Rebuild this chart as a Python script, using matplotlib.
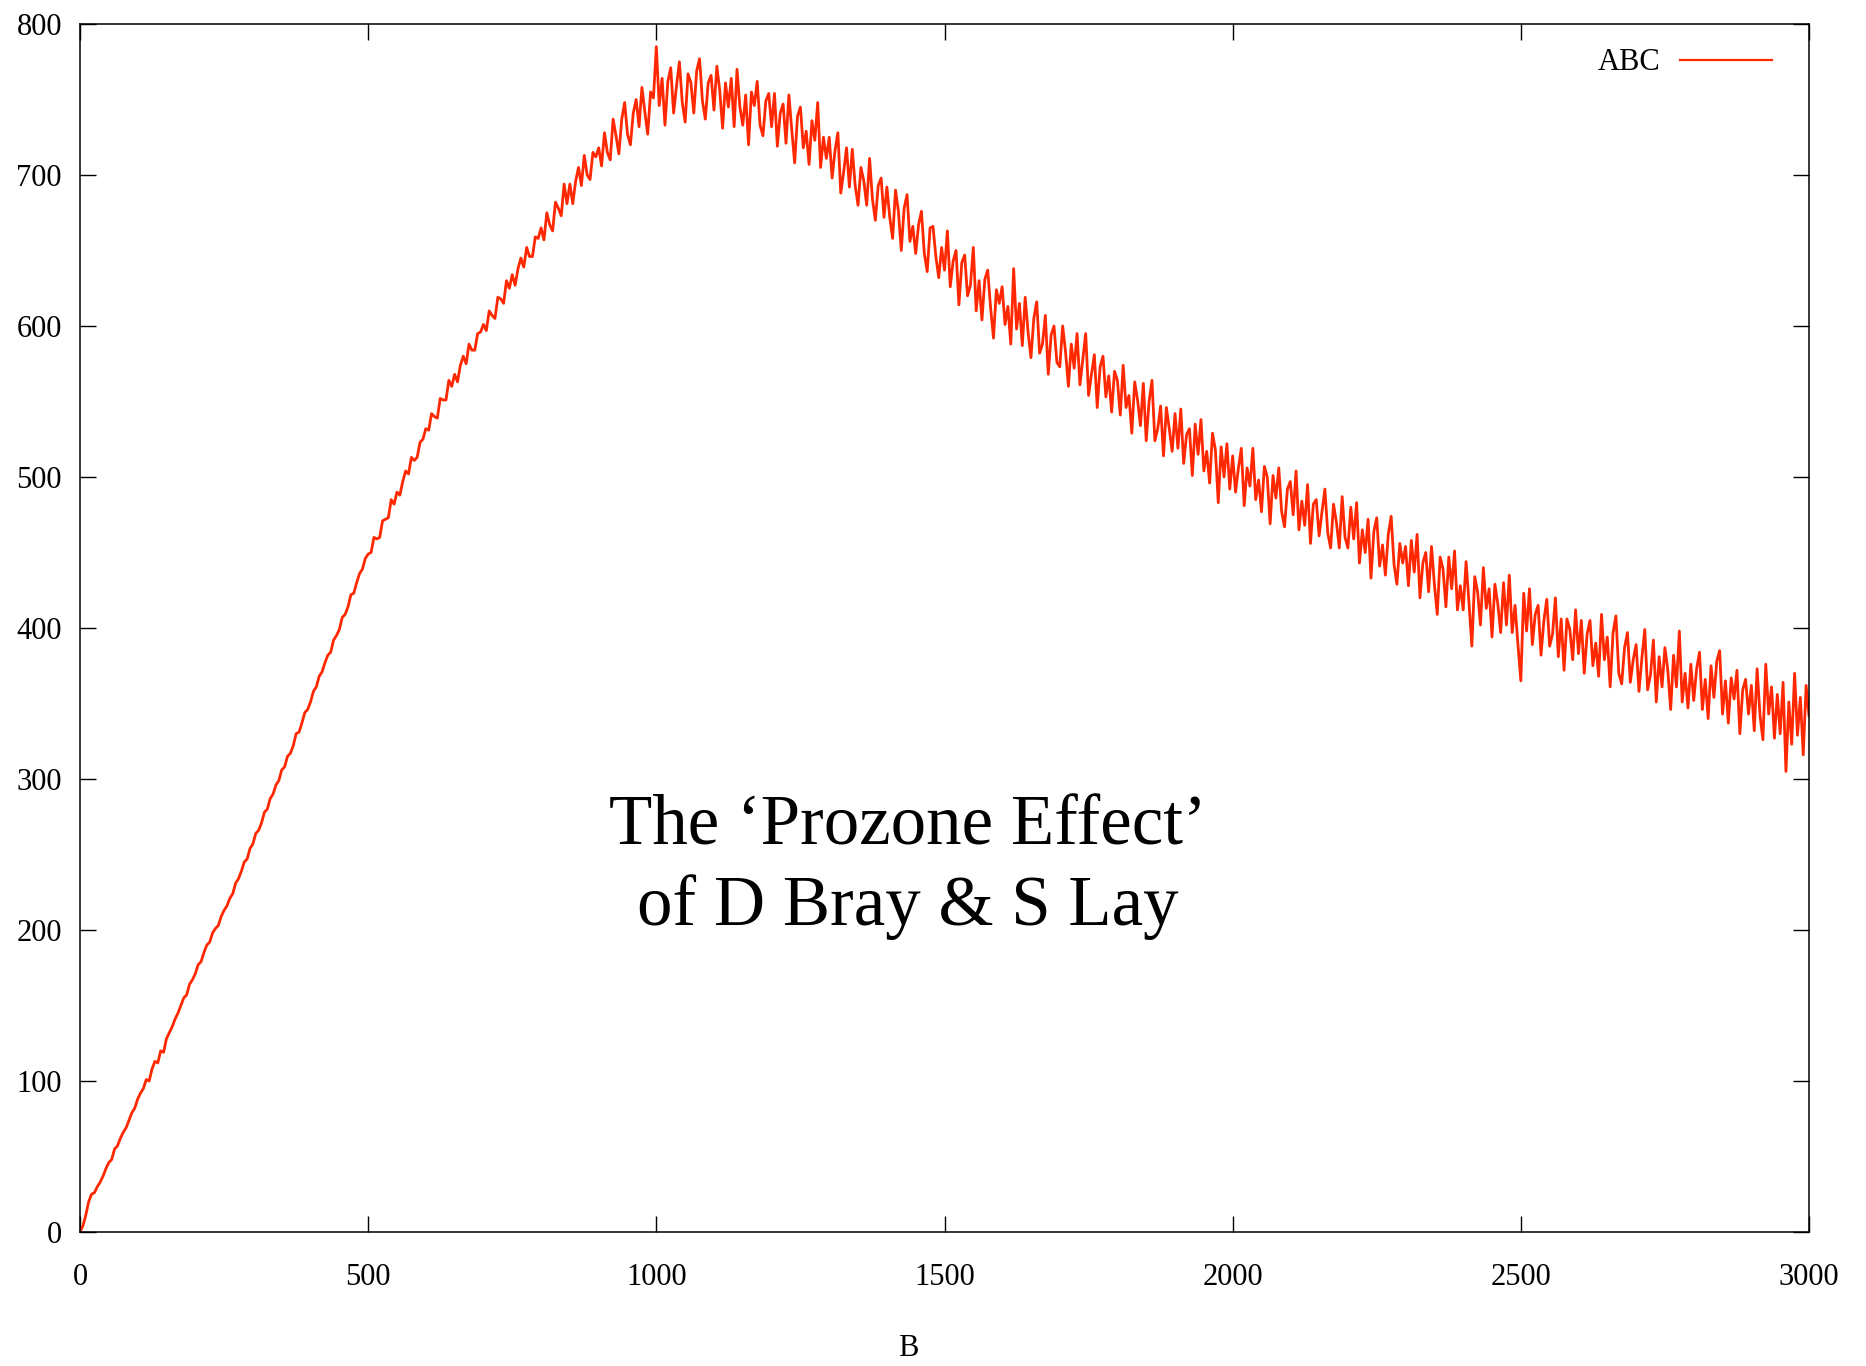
import numpy as np
import matplotlib
matplotlib.use("Agg")
import matplotlib.pyplot as plt

b_step = 5
b_values = np.arange(0, 3001, b_step)

abc_values = [
    # 0-95
    0, 4, 11, 20, 25, 26, 30, 33, 37, 42, 46, 48, 55, 57, 62, 66, 69, 74, 79, 82,
    # 100-195
    88, 92, 95, 101, 100, 108, 113, 112, 120, 119, 128, 132, 136, 141, 145, 150, 155, 157, 164, 167,
    # 200-295
    171, 177, 179, 185, 190, 192, 198, 201, 203, 209, 213, 216, 221, 224, 231, 234, 239, 245, 247, 254,
    # 300-395
    257, 264, 266, 271, 278, 280, 287, 290, 296, 299, 306, 308, 315, 317, 322, 330, 331, 337, 344, 346,
    # 400-495
    351, 358, 361, 368, 371, 377, 382, 384, 392, 395, 399, 407, 409, 414, 422, 423, 430, 436, 439, 446,
    # 500-595
    449, 450, 460, 459, 460, 471, 472, 473, 485, 482, 490, 488, 497, 504, 502, 513, 511, 513, 523, 525,
    # 600-695
    532, 531, 542, 540, 539, 552, 551, 551, 564, 560, 568, 563, 574, 580, 575, 588, 584, 584, 595, 596,
    # 700-795
    601, 597, 610, 607, 605, 619, 618, 615, 630, 625, 634, 627, 638, 645, 639, 652, 646, 646, 659, 658,
    # 800-895
    665, 657, 675, 667, 663, 682, 678, 673, 694, 681, 694, 681, 696, 705, 693, 713, 700, 697, 715, 712,
    # 900-995
    718, 706, 728, 715, 710, 737, 726, 714, 737, 748, 727, 720, 741, 750, 732, 758, 742, 727, 755, 751,
    # 1000-1095
    785, 746, 764, 733, 762, 771, 741, 759, 775, 748, 735, 767, 761, 741, 769, 777, 749, 737, 761, 766,
    # 1100-1195
    743, 772, 756, 731, 761, 745, 764, 732, 770, 745, 733, 753, 720, 755, 746, 762, 733, 726, 749, 754,
    # 1200-1295
    732, 754, 719, 741, 747, 721, 753, 730, 708, 739, 745, 718, 729, 707, 736, 723, 748, 705, 725, 711,
    # 1300-1395
    725, 698, 716, 728, 688, 702, 718, 692, 717, 693, 680, 705, 696, 680, 711, 684, 670, 693, 698, 672,
    # 1400-1495
    692, 672, 658, 690, 676, 650, 678, 687, 656, 666, 648, 667, 676, 648, 636, 665, 666, 646, 632, 652,
    # 1500-1595
    637, 663, 626, 643, 650, 614, 642, 647, 620, 627, 652, 610, 630, 604, 631, 637, 612, 592, 624, 615,
    # 1600-1695
    626, 601, 613, 588, 638, 598, 615, 587, 619, 596, 579, 605, 616, 582, 588, 607, 568, 594, 600, 576,
    # 1700-1795
    573, 600, 583, 560, 588, 572, 595, 561, 578, 595, 554, 568, 581, 546, 573, 580, 553, 567, 543, 570,
    # 1800-1895
    564, 541, 574, 546, 554, 529, 563, 551, 534, 562, 524, 550, 564, 524, 532, 547, 514, 546, 532, 517,
    # 1900-1995
    542, 519, 545, 509, 528, 532, 501, 535, 515, 538, 504, 517, 496, 529, 518, 483, 520, 500, 522, 492,
    # 2000-2095
    514, 490, 506, 519, 481, 506, 494, 519, 485, 498, 477, 507, 500, 469, 501, 486, 506, 477, 467, 492,
    # 2100-2195
    497, 475, 504, 465, 484, 468, 495, 456, 482, 485, 461, 477, 492, 463, 453, 482, 470, 453, 487, 460,
    # 2200-2295
    453, 480, 459, 483, 443, 465, 450, 472, 433, 464, 473, 441, 455, 435, 462, 474, 442, 429, 456, 443,
    # 2300-2395
    454, 428, 458, 437, 462, 420, 443, 450, 424, 454, 429, 409, 447, 439, 414, 447, 426, 451, 412, 428,
    # 2400-2495
    412, 444, 417, 388, 434, 424, 402, 440, 413, 426, 394, 429, 416, 397, 430, 402, 435, 397, 415, 389,
    # 2500-2595
    365, 423, 398, 426, 389, 409, 415, 382, 405, 419, 388, 396, 420, 381, 406, 372, 406, 399, 379, 412,
    # 2600-2695
    383, 405, 370, 396, 405, 375, 390, 368, 409, 379, 394, 361, 397, 408, 370, 363, 387, 397, 364, 379,
    # 2700-2795
    389, 358, 380, 399, 359, 369, 392, 351, 381, 361, 387, 372, 346, 382, 361, 398, 351, 370, 347, 376,
    # 2800-2895
    352, 373, 384, 346, 366, 340, 375, 354, 378, 385, 343, 365, 337, 367, 353, 372, 330, 359, 366, 343,
    # 2900-2995
    362, 332, 373, 342, 326, 376, 343, 361, 327, 356, 330, 364, 305, 351, 323, 370, 329, 354, 316, 362,
    # 3000
    342,
]

x_ticks = [0, 500, 1000, 1500, 2000, 2500, 3000]
y_ticks = [0, 100, 200, 300, 400, 500, 600, 700, 800]
series_label = "ABC"
x_label = "B"
note_text = "The \u2018Prozone Effect\u2019\nof D Bray & S Lay"

# ---- figure ----
plt.rcParams['font.family'] = ['Liberation Serif', 'DejaVu Serif']
W, H = 1866, 1366
fig = plt.figure(figsize=(W / 100, H / 100), dpi=100)
L, R, T, B = 80, 1809, 24, 1232
ax = fig.add_axes([L / W, 1 - B / H, (R - L) / W, (B - T) / H])

line_color = '#ff2800'
ax.plot(b_values, abc_values, color=line_color, lw=2.0, label=series_label)

ax.set_xlim(0, 3000)
ax.set_ylim(0, 800)
ax.set_xticks(x_ticks)
ax.set_yticks(y_ticks)
ax.tick_params(axis='both', which='both', direction='in', length=11.5, width=1.0,
               top=True, right=True, labelsize=22)
ax.tick_params(axis='x', pad=22)
ax.tick_params(axis='y', pad=13)
for s in ax.spines.values():
    s.set_linewidth(1.1)

ax.set_xlabel(x_label, fontsize=22)
ax.xaxis.set_label_coords((908 - L) / (R - L), -(1348 - B) / (B - T), transform=ax.transAxes)
ax.xaxis.label.set_va('center')

leg = ax.legend(loc='center right', bbox_to_anchor=((1772 - L) / (R - L), (B - 63) / (B - T)),
                frameon=False, markerfirst=False, fontsize=22, handlelength=3.0,
                handletextpad=0.65, borderpad=0, borderaxespad=0)
for h in leg.get_lines():
    h.set_linewidth(1.6)

ax.text((908 - L) / (R - L), (B - 867) / (B - T), note_text, transform=ax.transAxes,
        ha='center', va='center', fontsize=51, linespacing=1.28)

fig.savefig('out.png', dpi=100)
